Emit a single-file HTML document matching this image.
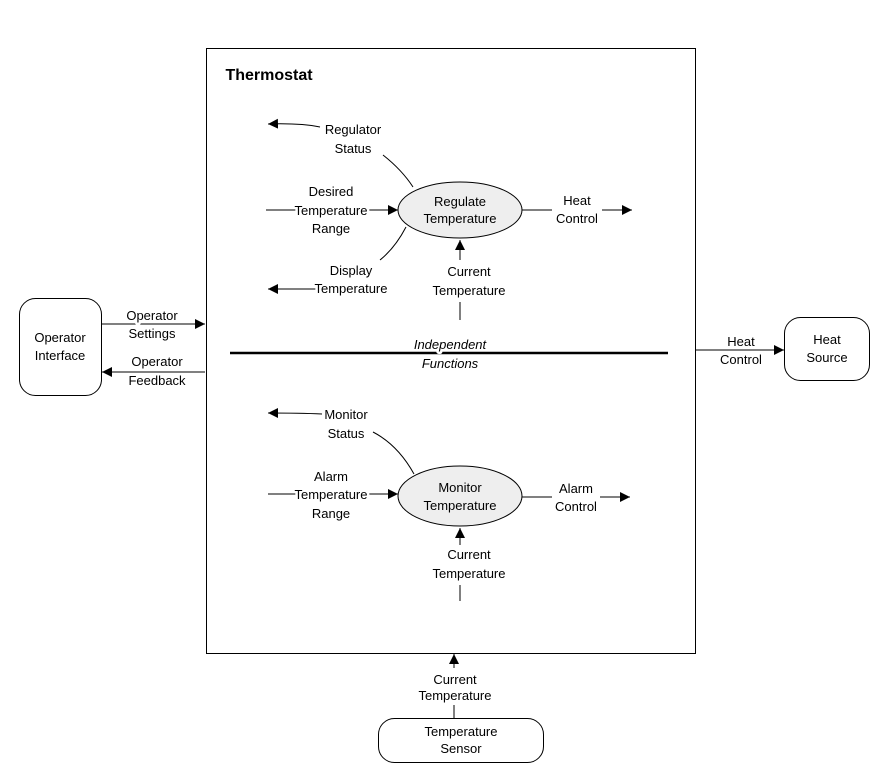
<!DOCTYPE html>
<html><head><meta charset="utf-8"><style>
html,body{margin:0;padding:0;background:#fff;}
svg{display:block;}
text{font-family:"Liberation Sans",Arial,sans-serif;font-size:13px;fill:#000;text-anchor:middle;stroke:#fff;stroke-width:5px;paint-order:stroke;stroke-linejoin:round;}
</style></head><body>
<svg width="891" height="780" viewBox="0 0 891 780" xmlns="http://www.w3.org/2000/svg">
<defs>
<marker id="a" viewBox="0 0 10 10" refX="10" refY="5" markerWidth="10" markerHeight="10" markerUnits="userSpaceOnUse" orient="auto">
<path d="M0,0 L10,5 L0,10 z" fill="#000"/></marker>
</defs>
<g stroke="#000" fill="none" stroke-width="1">
<rect x="206.5" y="48.5" width="489" height="605"/>
<rect x="19.5" y="298.5" width="82" height="97" rx="16"/>
<rect x="784.5" y="317.5" width="85" height="63" rx="16"/>
<rect x="378.5" y="718.5" width="165" height="44" rx="16"/>
<ellipse cx="460" cy="210" rx="62" ry="28" fill="#eeeeee"/>
<ellipse cx="460" cy="496" rx="62" ry="30" fill="#eeeeee"/>
<line x1="230" y1="353" x2="668" y2="353" stroke-width="2.5"/>
<path d="M320,127 Q300,123 268,124" marker-end="url(#a)"/>
<path d="M383,155 Q402,170 413,187"/>
<line x1="266" y1="210" x2="398" y2="210" marker-end="url(#a)"/>
<path d="M406,227 Q395,248 380,260"/>
<path d="M320,289 L268,289" marker-end="url(#a)"/>
<line x1="460" y1="320" x2="460" y2="302"/>
<line x1="460" y1="260" x2="460" y2="240" marker-end="url(#a)"/>
<line x1="522" y1="210" x2="552" y2="210"/>
<line x1="602" y1="210" x2="632" y2="210" marker-end="url(#a)"/>
<path d="M322,414 Q300,413 268,413" marker-end="url(#a)"/>
<path d="M373,432 Q398,445 414,474"/>
<line x1="268" y1="494" x2="398" y2="494" marker-end="url(#a)"/>
<line x1="522" y1="497" x2="552" y2="497"/>
<line x1="600" y1="497" x2="630" y2="497" marker-end="url(#a)"/>
<line x1="460" y1="601" x2="460" y2="585"/>
<line x1="460" y1="545" x2="460" y2="528" marker-end="url(#a)"/>
<line x1="101" y1="324" x2="205" y2="324" marker-end="url(#a)"/>
<line x1="205" y1="372" x2="102" y2="372" marker-end="url(#a)"/>
<line x1="696" y1="350" x2="784" y2="350" marker-end="url(#a)"/>
<line x1="454" y1="718" x2="454" y2="705"/>
<line x1="454" y1="668" x2="454" y2="654" marker-end="url(#a)"/>
</g>
<text x="269" y="80" style="font-size:16px;font-weight:bold">Thermostat</text>
<text x="353" y="134">Regulator</text><text x="353" y="153">Status</text>
<text x="331" y="196">Desired</text><text x="331" y="215">Temperature</text><text x="331" y="233">Range</text>
<text x="460" y="206" style="stroke:none">Regulate</text><text x="460" y="223" style="stroke:none">Temperature</text>
<text x="577" y="205">Heat</text><text x="577" y="223">Control</text>
<text x="351" y="275">Display</text><text x="351" y="293">Temperature</text>
<text x="469" y="276">Current</text><text x="469" y="295">Temperature</text>
<text x="450" y="349" style="font-style:italic">Independent</text>
<text x="450" y="368" style="font-style:italic">Functions</text>
<text x="346" y="419">Monitor</text><text x="346" y="438">Status</text>
<text x="331" y="481">Alarm</text><text x="331" y="499">Temperature</text><text x="331" y="518">Range</text>
<text x="460" y="492" style="stroke:none">Monitor</text><text x="460" y="510" style="stroke:none">Temperature</text>
<text x="576" y="493">Alarm</text><text x="576" y="511">Control</text>
<text x="469" y="559">Current</text><text x="469" y="578">Temperature</text>
<text x="60" y="342">Operator</text><text x="60" y="360">Interface</text>
<text x="152" y="320">Operator</text><text x="152" y="338">Settings</text>
<text x="157" y="366">Operator</text><text x="157" y="385">Feedback</text>
<text x="741" y="346">Heat</text><text x="741" y="364">Control</text>
<text x="827" y="344">Heat</text><text x="827" y="362">Source</text>
<text x="455" y="684">Current</text><text x="455" y="700">Temperature</text>
<text x="461" y="736">Temperature</text><text x="461" y="753">Sensor</text>
</svg>
</body></html>
